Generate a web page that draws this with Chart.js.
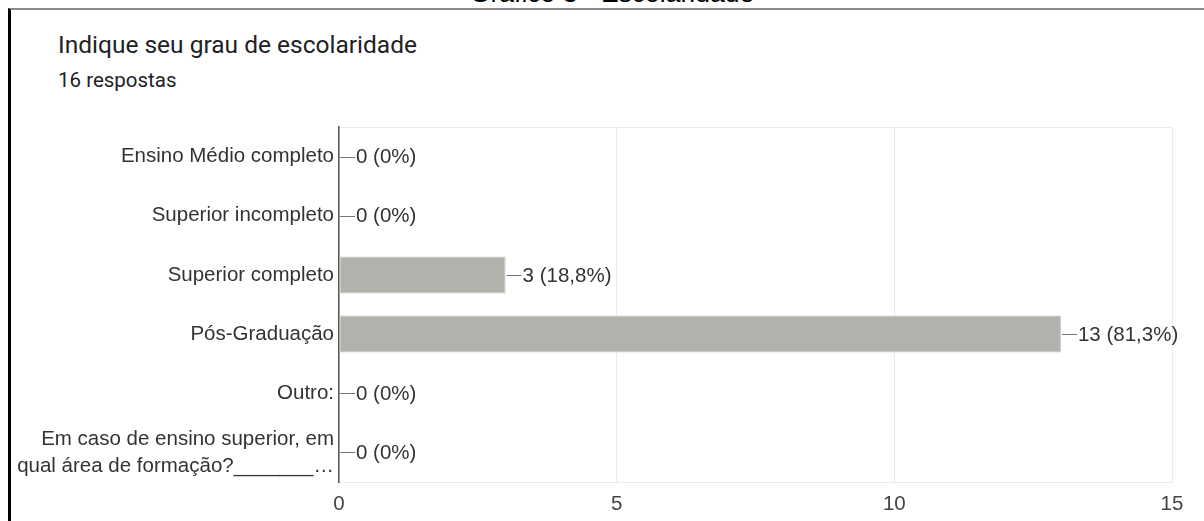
<!DOCTYPE html>
<html>
<head>
<meta charset="utf-8">
<script src="https://cdn.jsdelivr.net/npm/chart.js@4.4.1/dist/chart.umd.min.js"></script>
<style>
  html, body { margin: 0; padding: 0; background: #fff; }
  body { width: 1204px; height: 521px; position: relative; overflow: hidden; }
  #caption { position: absolute; top: -20px; left: 0; width: 1224px; text-align: center;
    font: 26.5px "Liberation Sans", Arial, sans-serif; line-height: 27px; color: #000; }
  #frame { position: absolute; left: 8px; top: 8px; width: 1200px; height: 520px;
    border-top: 2px solid #8a8a8a; border-left: 3px solid #000; box-sizing: border-box; }
  #title { position: absolute; left: 58px; top: 30px; font: 24.5px Roboto, sans-serif; line-height: 30px; color: #202124; }
  #sub { position: absolute; left: 58px; top: 68px; font: 20.5px Roboto, sans-serif; line-height: 24px; color: #202124; }
  #wrap { position: absolute; left: 0; top: 0; width: 1204px; height: 521px; }
</style>
</head>
<body>
<div id="caption">Gráfico 3 - Escolaridade</div>
<div id="frame"></div>
<div id="title">Indique seu grau de escolaridade</div>
<div id="sub">16 respostas</div>
<div id="wrap"><canvas id="c" width="1204" height="521"></canvas></div>
<script>
const categories = [
  "Ensino Médio completo",
  "Superior incompleto",
  "Superior completo",
  "Pós-Graduação",
  "Outro:",
  ["Em caso de ensino superior, em", "qual área de formação?_______…"]
];
const counts = [0, 0, 3, 13, 0, 0];
const percents = ["0%", "0%", "18,8%", "81,3%", "0%", "0%"];
const xTicks = [0, 5, 10, 15];

const FONT = '"Liberation Sans", Arial, sans-serif';

const valueLabels = {
  id: 'valueLabels',
  afterDatasetsDraw(chart) {
    const ctx = chart.ctx;
    const meta = chart.getDatasetMeta(0);
    const xs = chart.scales.x;
    ctx.save();
    ctx.font = '20.5px ' + FONT;
    ctx.textBaseline = 'middle';
    ctx.textAlign = 'left';
    meta.data.forEach((bar, i) => {
      const x0 = xs.getPixelForValue(counts[i]);
      const y = bar.y;
      ctx.strokeStyle = '#777';
      ctx.lineWidth = 1;
      ctx.beginPath();
      ctx.moveTo(x0 + 1, Math.round(y) + 0.5);
      ctx.lineTo(x0 + 16, Math.round(y) + 0.5);
      ctx.stroke();
      ctx.fillStyle = '#333';
      ctx.fillText(counts[i] + ' (' + percents[i] + ')', x0 + 17, y + 1);
    });
    ctx.restore();
  }
};

new Chart(document.getElementById('c'), {
  type: 'bar',
  data: {
    labels: categories,
    datasets: [{
      data: counts,
      backgroundColor: '#b2b2ad',
      borderColor: '#c2c2be',
      borderWidth: 1,
      borderSkipped: false,
      barPercentage: 0.625,
      categoryPercentage: 1
    }]
  },
  options: {
    indexAxis: 'y',
    responsive: false,
    animation: false,
    layout: { padding: { left: 10, right: 32, top: 127, bottom: 0 } },
    plugins: { legend: { display: false }, tooltip: { enabled: false } },
    scales: {
      x: {
        min: 0, max: 15,
        afterBuildTicks(scale) { scale.ticks = xTicks.map(v => ({ value: v })); },
        afterFit(scale) { scale.height = 39; },
        grid: { color: '#ebebeb', lineWidth: 1, drawTicks: false },
        border: { display: true, color: '#ebebeb' },
        ticks: { padding: 10, color: '#444', font: { family: FONT, size: 20.5 } }
      },
      y: {
        afterFit(scale) { scale.width = 329; },
        grid: {
          drawTicks: false,
          color: (c) => (c.index === 0 || c.index === categories.length) ? '#ebebeb' : 'rgba(0,0,0,0)'
        },
        border: { display: true, color: '#555', width: 1.5 },
        ticks: { padding: 5, color: '#333', font: { family: FONT, size: 20.5, lineHeight: 1.32 } }
      }
    }
  },
  plugins: [valueLabels]
});
</script>
</body>
</html>
